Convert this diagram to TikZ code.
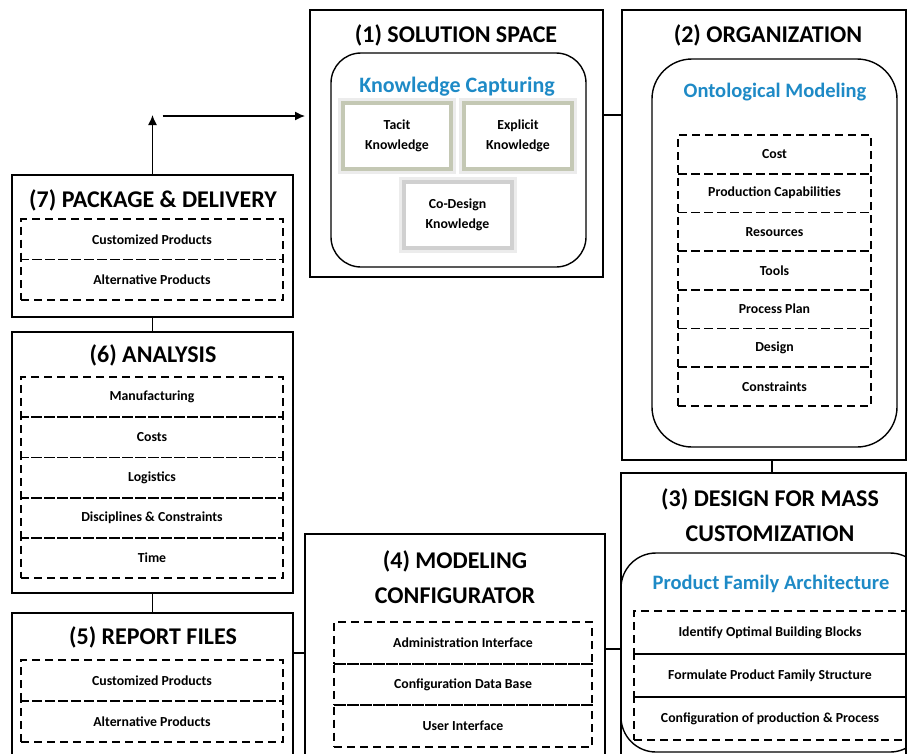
\documentclass[tikz,border=0pt]{standalone}
\usepackage{fontspec}
\setmainfont{Carlito}
\usetikzlibrary{positioning,calc,arrows.meta}

\definecolor{capblue}{RGB}{30,138,198}
\definecolor{olivegrey}{RGB}{196,200,180}
\definecolor{lightgrey}{RGB}{208,208,208}
\definecolor{glow}{RGB}{236,236,236}

\begin{document}
\begin{tikzpicture}[x=1pt, y=-1pt, node distance=0pt,
            every node/.style={inner sep=0pt, outer sep=0pt},
            stage/.style={draw, line width=1.5pt},
            heading/.style={font=\fontsize{24}{35}\selectfont\bfseries, align=center},
            subhead/.style={font=\fontsize{20.5}{24}\selectfont\bfseries, text=capblue},
            roundbox/.style={draw, line width=1.4pt, rounded corners=#1},
            item/.style={draw, line width=1.8pt, dash pattern=on 8pt off 5pt,
                         font=\fontsize{13.8}{16}\selectfont\bfseries},
            orgrow/.style={item, minimum width=193pt, minimum height=38.7pt},
            dfmrow/.style={item, minimum width=272pt, minimum height=43pt},
            cfgrow/.style={item, minimum width=258pt, minimum height=41.7pt},
            siderow/.style={item, minimum width=262pt, minimum height=#1},
            kbox/.style={draw=#1, line width=4pt, fill=white, minimum width=108pt,
                         minimum height=66pt, align=center,
                         font=\fontsize{13.8}{20}\selectfont\bfseries,
                         preaction={draw=glow, line width=10pt}},
            link/.style={line width=1.5pt},
            arr/.style={line width=1.3pt, -{Latex[length=10pt,width=9pt]}}]
        \useasboundingbox (0,0) rectangle (907,753);
        \clip (0,0) rectangle (907,753);

        % stages
        \node[stage, minimum width=293pt, minimum height=267pt] (sol) at (456.5,143.5) {};
        \node[stage, minimum width=284pt, minimum height=450pt] (org) at (764,235) {};
        \node[stage, minimum width=285pt, minimum height=300pt] (dfm) at (763.5,623) {};
        \node[stage, minimum width=300pt, minimum height=240pt] (cfg) at (455,654) {};
        \node[stage, minimum width=281pt, minimum height=160pt] (rep) at (152.5,693) {};
        \node[stage, minimum width=281pt, minimum height=261pt] (ana) at (152.5,462.5) {};
        \node[stage, minimum width=281pt, minimum height=142pt] (pkg) at (152.5,246) {};

        \node[heading] (solt) at (456,35) {(1) SOLUTION SPACE};
        \node[heading] (orgt) at (768,35) {(2) ORGANIZATION};
        \node[heading] (dfmt) at (770,515.5) {(3) DESIGN FOR MASS\\CUSTOMIZATION};
        \node[heading] (cfgt) at (455,577.5) {(4) MODELING\\CONFIGURATOR};
        \node[heading] (rept) at (153,637) {(5) REPORT FILES};
        \node[heading] (anat) at (153,355) {(6) ANALYSIS};
        \node[heading] (pkgt) at (153,200) {(7) PACKAGE \& DELIVERY};

        % (1) knowledge capturing
        \node[roundbox=30pt, minimum width=255pt, minimum height=214pt] (solin) at (458.5,160) {};
        \node[subhead, font=\fontsize{22}{26}\selectfont\bfseries] (kcap) at (457,87) {Knowledge Capturing};
        \node[kbox=olivegrey] (tacit) at (397,136) {Tacit\\Knowledge};
        \node[kbox=olivegrey] (explicit) at (518,136) {Explicit\\Knowledge};
        \node[kbox=lightgrey] (codesign) at (457.5,215) {Co-Design\\Knowledge};

        % (2) ontological modeling
        \node[roundbox=40pt, minimum width=245pt, minimum height=388pt] (orgin) at (774.5,253) {};
        \node[subhead] (onto) at (775,92) {Ontological Modeling};
        \node[orgrow] (cost) at (774.5,154.4) {Cost};
        \node[orgrow, below=of cost] (prodcap) {Production Capabilities};
        \node[orgrow, below=of prodcap] (resources) {Resources};
        \node[orgrow, below=of resources] (tools) {Tools};
        \node[orgrow, below=of tools] (procplan) {Process Plan};
        \node[orgrow, below=of procplan] (design) {Design};
        \node[orgrow, below=of design] (constr) {Constraints};

        % (3) product family architecture
        \node[roundbox=35pt, minimum width=304pt, minimum height=199pt] (dfmin) at (773,652.5) {};
        \node[subhead] (pfa) at (771,584) {Product Family Architecture};
        \node[dfmrow] (blocks) at (770,632.5) {Identify Optimal Building Blocks};
        \node[dfmrow, below=of blocks] (famstruct) {Formulate Product Family Structure};
        \node[dfmrow, below=of famstruct] (prodconf) {Configuration of production \& Process};

        % (4) configurator
        \node[cfgrow] (admin) at (463,642.8) {Administration Interface};
        \node[cfgrow, below=of admin] (database) {Configuration Data Base};
        \node[cfgrow, below=of database] (userif) {User Interface};

        % (5) report files
        \node[siderow=41pt] (repcust) at (152,680.5) {Customized Products};
        \node[siderow=41pt, below=of repcust] (repalt) {Alternative Products};

        % (6) analysis
        \node[siderow=40.2pt] (manuf) at (152,397.1) {Manufacturing};
        \node[siderow=40.2pt, below=of manuf] (costs) {Costs};
        \node[siderow=40.2pt, below=of costs] (logist) {Logistics};
        \node[siderow=40.2pt, below=of logist] (discip) {Disciplines \& Constraints};
        \node[siderow=40.2pt, below=of discip] (time) {Time};

        % (7) package & delivery
        \node[siderow=40.5pt] (pkgcust) at (152,239.25) {Customized Products};
        \node[siderow=40.5pt, below=of pkgcust] (pkgalt) {Alternative Products};

        % connectors
        \draw[link] ([yshift=28.5pt]sol.east) coordinate (s2o) -- (s2o -| org.west);
        \draw[link] ([xshift=8pt]org.south) coordinate (o2d) -- (o2d |- dfm.north);
        \draw[link] ([yshift=5pt]cfg.east) coordinate (c2d) -- (c2d -| dfm.west);
        \draw[link] ([yshift=40pt]rep.east) coordinate (r2c) -- (r2c -| cfg.west);
        \draw[link] (pkg.south) -- (ana.north);
        \draw[link] (ana.south) -- (rep.north);
        \draw[arr] (pkg.north) -- (pkg.north |- s2o);
        \draw[arr] ($(pkg.north |- s2o)+(10,1)$) -- ($(sol.west |- s2o)+(-5,1)$);
\end{tikzpicture}
\end{document}
